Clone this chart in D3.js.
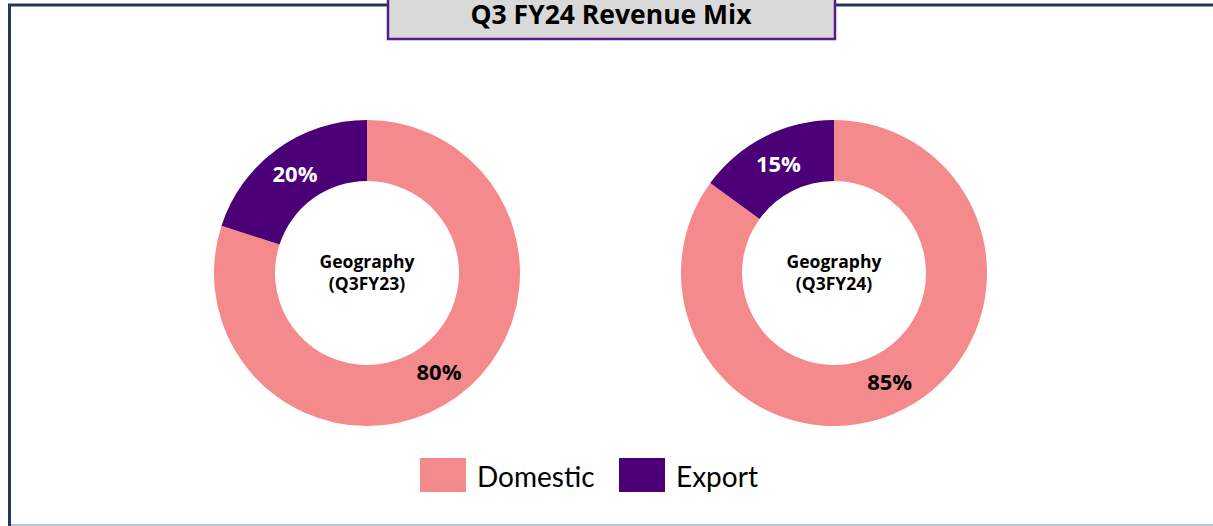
<!DOCTYPE html>
<html>
<head>
<meta charset="utf-8">
<script src="https://cdn.jsdelivr.net/npm/d3@7"></script>
<style>
  html, body { margin: 0; padding: 0; background: #fff; }
  svg { display: block; }
  text { font-family: Lato, "Open Sans", sans-serif; }
  text.bold { font-family: "Open Sans", Lato, sans-serif; font-weight: 700; }
</style>
</head>
<body>
<svg id="chart" width="1213" height="526"></svg>
<script>
// Revenue mix by geography
const categories = ["Domestic", "Export"];
const periods = ["Q3FY23", "Q3FY24"];
const shareQ3FY23 = [80, 20];
const shareQ3FY24 = [85, 15];
const centerTitle = "Geography";
const chartTitle = "Q3 FY24 Revenue Mix";

const colors = d3.scaleOrdinal().domain(categories).range(["#f58a8c", "#4b0078"]);
const labelColors = d3.scaleOrdinal().domain(categories).range(["#000000", "#ffffff"]);

const W = 1213, H = 526;
const svg = d3.select("#chart");

// outer frame
svg.append("line").attr("x1", 9.5).attr("x2", 9.5).attr("y1", 4).attr("y2", H)
  .attr("stroke", "#1f3864").attr("stroke-width", 3);
svg.append("line").attr("x1", 8).attr("x2", W).attr("y1", 5).attr("y2", 5)
  .attr("stroke", "#1f3864").attr("stroke-width", 3);
svg.append("line").attr("x1", 11).attr("x2", W).attr("y1", 525).attr("y2", 525)
  .attr("stroke", "#a9b1c2").attr("stroke-width", 1.5);

// title box
svg.append("rect").attr("x", 388).attr("y", -4).attr("width", 447).attr("height", 43)
  .attr("fill", "#d9d9d9").attr("stroke", "#5a1a8e").attr("stroke-width", 2.5);
svg.append("text").attr("class", "bold").attr("x", 611).attr("y", 24).attr("text-anchor", "middle")
  .attr("font-size", 26.5).attr("fill", "#000")
  .text(chartTitle);

const outerR = 153, innerR = 92;
const pie = d3.pie().sort(null).value(d => d.value);
const arc = d3.arc().innerRadius(innerR).outerRadius(outerR);

const donuts = [
  { period: periods[0], values: shareQ3FY23, cx: 367 },
  { period: periods[1], values: shareQ3FY24, cx: 834 }
];

donuts.forEach(dn => {
  const data = categories.map((c, i) => ({ cat: c, value: dn.values[i] }));
  const g = svg.append("g").attr("transform", `translate(${dn.cx},273)`);
  const arcs = pie(data);
  g.selectAll("path").data(arcs).join("path")
    .attr("d", arc).attr("fill", d => colors(d.data.cat));
  g.selectAll("text.val").data(arcs).join("text")
    .attr("class", "val bold")
    .attr("transform", d => `translate(${arc.centroid(d)})`)
    .attr("text-anchor", "middle").attr("dy", "0.36em")
    .attr("font-size", 22)
    .attr("fill", d => labelColors(d.data.cat))
    .text(d => d.data.value + "%");
  g.append("text").attr("class", "bold").attr("text-anchor", "middle").attr("y", -5)
    .attr("font-size", 17.5).attr("fill", "#000")
    .text(centerTitle);
  g.append("text").attr("class", "bold").attr("text-anchor", "middle").attr("y", 17)
    .attr("font-size", 17.5).attr("fill", "#000")
    .text("(" + dn.period + ")");
});

// legend
const legend = svg.append("g");
const legendX = [420, 619];
categories.forEach((c, i) => {
  legend.append("rect").attr("x", legendX[i]).attr("y", 458).attr("width", 46).attr("height", 34)
    .attr("fill", colors(c));
  legend.append("text").attr("x", legendX[i] + 57).attr("y", 487)
    .attr("font-size", 28).attr("fill", "#000").text(c);
});
</script>
</body>
</html>
